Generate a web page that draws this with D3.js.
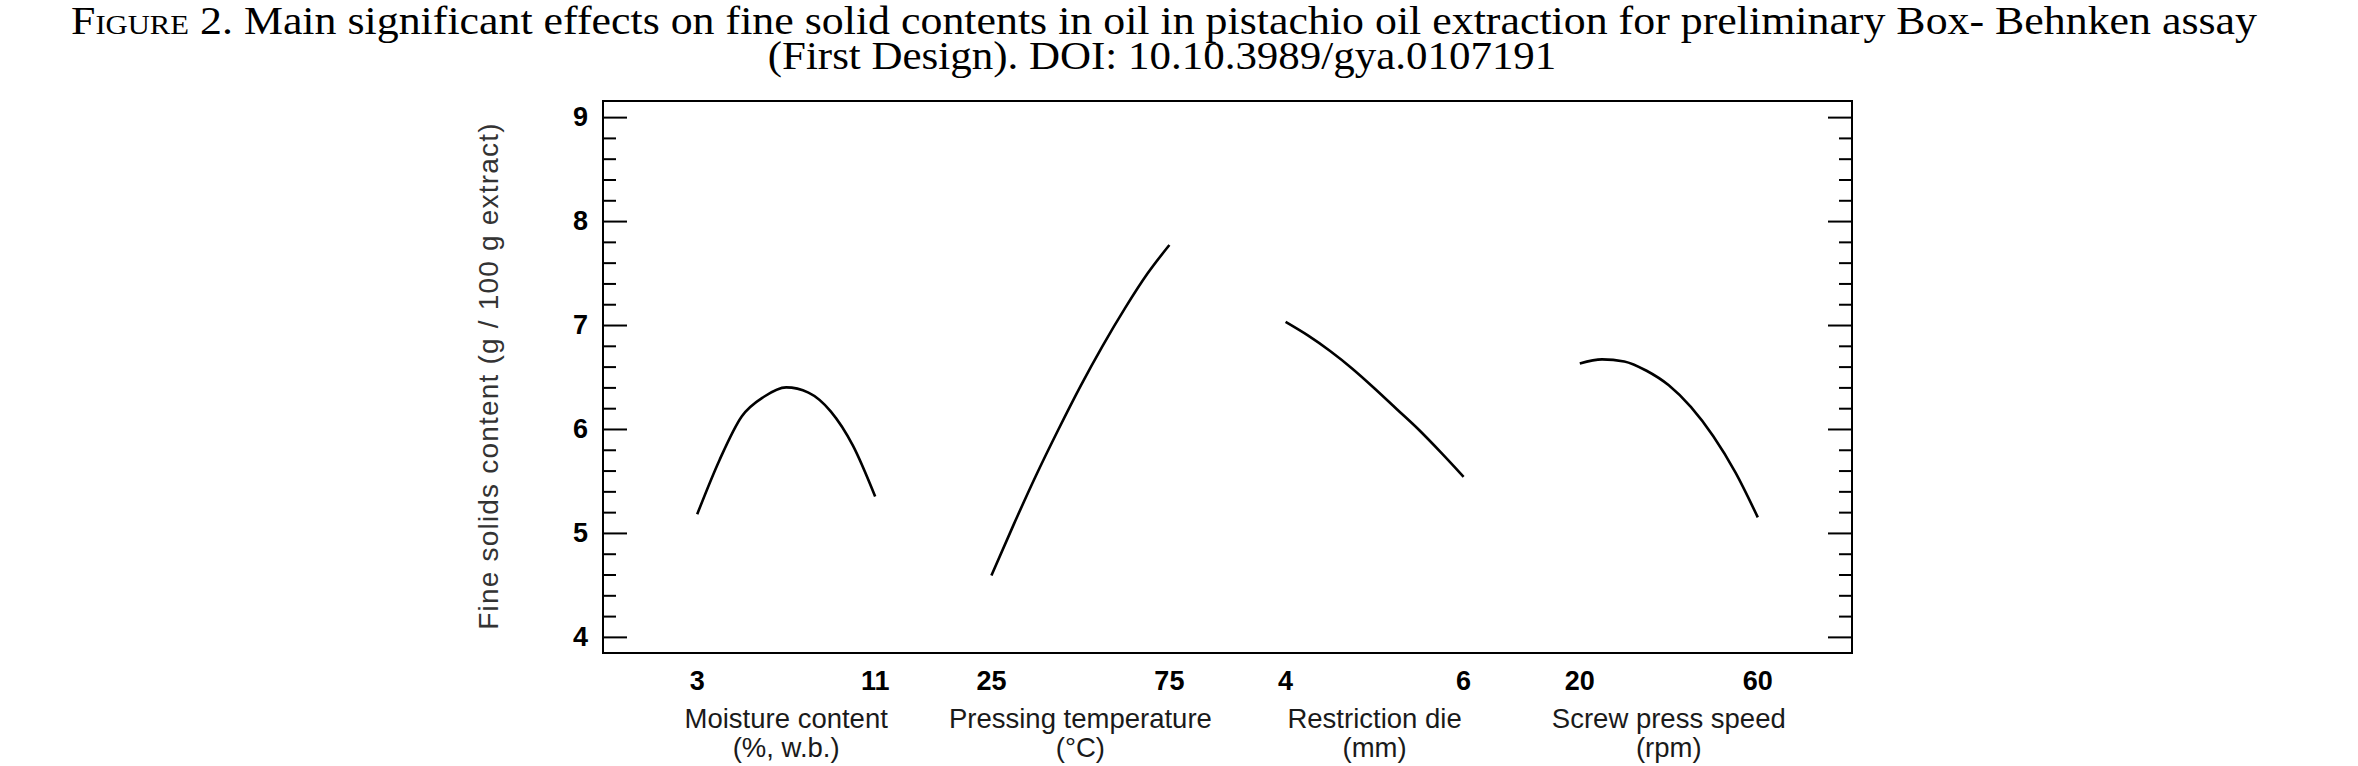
<!DOCTYPE html>
<html>
<head>
<meta charset="utf-8">
<script src="https://cdn.jsdelivr.net/npm/d3@7"></script>
<style>
  body { margin: 0; background: #fff; }
  svg { display: block; }
</style>
</head>
<body>
<div id="chart"></div>
<script>
// factor names, units and level labels
const factors = ["Moisture content", "Pressing temperature", "Restriction die", "Screw press speed"];
const factorUnits = ["(%, w.b.)", "(°C)", "(mm)", "(rpm)"];
const lowLabels = ["3", "25", "4", "20"];
const highLabels = ["11", "75", "6", "60"];

// main effect curves
const moistureX = [3, 4, 5, 6, 7, 8, 9, 10, 11];
const moistureY = [5.18, 5.70, 6.12, 6.31, 6.40, 6.35, 6.17, 5.84, 5.35];
const tempX = [25, 31.25, 37.5, 43.75, 50, 56.25, 62.5, 68.75, 75];
const tempY = [4.59, 5.08, 5.55, 5.99, 6.41, 6.80, 7.16, 7.49, 7.77];
const dieX = [4, 4.25, 4.5, 4.75, 5, 5.25, 5.5, 5.75, 6];
const dieY = [7.03, 6.90, 6.75, 6.58, 6.39, 6.19, 5.99, 5.77, 5.54];
const speedX = [20, 25, 30, 35, 40, 45, 50, 55, 60];
const speedY = [6.63, 6.67, 6.65, 6.56, 6.42, 6.21, 5.93, 5.58, 5.15];

const yMajor = [4, 5, 6, 7, 8, 9];
const yDomain = [3.845, 9.155];

const titleLine1 = "2. Main significant effects on fine solid contents in oil in pistachio oil extraction for preliminary Box- Behnken assay";
const titleLine2 = "(First Design). DOI: 10.10.3989/gya.0107191";
const yTitle = "Fine solids content (g / 100 g extract)";

const W = 2358, H = 766;
const margin = {top: 101, right: 506, bottom: 113, left: 603};
const width = W - margin.left - margin.right;
const height = H - margin.top - margin.bottom;

const svg = d3.select("#chart").append("svg")
    .attr("width", W)
    .attr("height", H);

// STEP 1: title (two centred lines, Times-like, a little wide like the source)
const serif = "'Liberation Serif', 'Times New Roman', serif";

function wideLine(cx, baseline, targetW, build) {
    const grp = svg.append("g");
    const t = grp.append("text")
        .attr("x", 0).attr("y", 0)
        .attr("text-anchor", "middle")
        .style("font-family", serif)
        .style("font-size", "39px")
        .attr("fill", "#000");
    build(t);
    const natural = t.node().getComputedTextLength();
    const sx = natural > 0 ? targetW / natural : 1;
    grp.attr("transform", `translate(${cx},${baseline}) scale(${sx},1)`);
}

wideLine(1164, 34, 2186, t => {
    t.append("tspan").style("font-variant", "small-caps").text("Figure ");
    t.append("tspan").text(titleLine1);
});
wideLine(1162, 69, 789, t => t.text(titleLine2));

const g = svg.append("g")
    .attr("transform", `translate(${margin.left},${margin.top})`);

// STEP 2: scales
var y = d3.scaleLinear().domain(yDomain).range([height, 0]);

var band = d3.scaleBand()
    .domain(factors)
    .range([0, width])
    .paddingInner(0)
    .paddingOuter(0.1227);

const series = [
    {x: moistureX, y: moistureY},
    {x: tempX, y: tempY},
    {x: dieX, y: dieY},
    {x: speedX, y: speedY}
];

// one x scale per factor, low..high spread over the middle of its band
const xScales = factors.map((f, i) => {
    const b0 = band(f), bw = band.bandwidth();
    const xs = series[i].x;
    return d3.scaleLinear()
        .domain([xs[0], xs[xs.length - 1]])
        .range([b0 + 0.1975 * bw, b0 + 0.8025 * bw]);
});

// STEP 3: y ticks (inward on both sides)
const yMinor = d3.range(4, 9.0001, 0.2).filter(v => Math.abs(v - Math.round(v)) > 1e-6);

function tickAxis(axis, vals, size) {
    return axis.tickValues(vals).tickSize(size).tickFormat("");
}

[[d3.axisRight, 0], [d3.axisLeft, width]].forEach(([mk, xPos]) => {
    g.append("g").attr("class", "tk").attr("transform", `translate(${xPos},0)`)
        .call(tickAxis(mk(y), yMajor, 24));
    g.append("g").attr("class", "tk").attr("transform", `translate(${xPos},0)`)
        .call(tickAxis(mk(y), yMinor, 13));
});
g.selectAll(".tk .domain").remove();
g.selectAll(".tk line").attr("stroke", "#000").attr("stroke-width", 2);

// y labels
g.append("g")
    .call(d3.axisLeft(y).tickValues(yMajor).tickSize(0).tickPadding(15).tickFormat(d3.format("d")))
    .call(a => a.select(".domain").remove())
    .selectAll("text")
        .style("font-family", "'Liberation Sans', Arial, sans-serif")
        .style("font-size", "27px")
        .style("font-weight", "bold")
        .attr("fill", "#000");

// y title
g.append("text")
    .attr("transform", `translate(-115,${height / 2 - 1}) rotate(-90)`)
    .attr("text-anchor", "middle")
    .attr("dy", "0.35em")
    .style("font-family", "'Liberation Sans', Arial, sans-serif")
    .style("font-size", "28px")
    .style("letter-spacing", "1.2px")
    .attr("fill", "#333")
    .text(yTitle);

// frame
g.append("rect")
    .attr("x", 0).attr("y", 0)
    .attr("width", width).attr("height", height)
    .attr("fill", "none")
    .attr("stroke", "#000")
    .attr("stroke-width", 2);

// STEP 4: curves
series.forEach((s, i) => {
    const pts = s.x.map((v, j) => [v, s.y[j]]);
    const line = d3.line()
        .x(d => xScales[i](d[0]))
        .y(d => y(d[1]))
        .curve(d3.curveMonotoneX);
    g.append("path")
        .datum(pts)
        .attr("d", line)
        .attr("fill", "none")
        .attr("stroke", "#000")
        .attr("stroke-width", 2.6);
});

// STEP 5: x labels (levels + factor names)
const labelFont = "'Liberation Sans', Arial, sans-serif";
factors.forEach((f, i) => {
    const xs = series[i].x;
    const sc = xScales[i];
    [[xs[0], lowLabels[i]], [xs[xs.length - 1], highLabels[i]]].forEach(([v, t]) => {
        g.append("text")
            .attr("x", sc(v)).attr("y", height + 37)
            .attr("text-anchor", "middle")
            .style("font-family", labelFont)
            .style("font-size", "27px")
            .style("font-weight", "bold")
            .text(t);
    });
    const cx = band(f) + band.bandwidth() / 2;
    g.append("text")
        .attr("x", cx).attr("y", height + 75)
        .attr("text-anchor", "middle")
        .style("font-family", labelFont)
        .style("font-size", "27.5px")
        .attr("fill", "#1a1a1a")
        .text(f);
    g.append("text")
        .attr("x", cx).attr("y", height + 104)
        .attr("text-anchor", "middle")
        .style("font-family", labelFont)
        .style("font-size", "27.5px")
        .attr("fill", "#1a1a1a")
        .text(factorUnits[i]);
});
</script>
</body>
</html>
